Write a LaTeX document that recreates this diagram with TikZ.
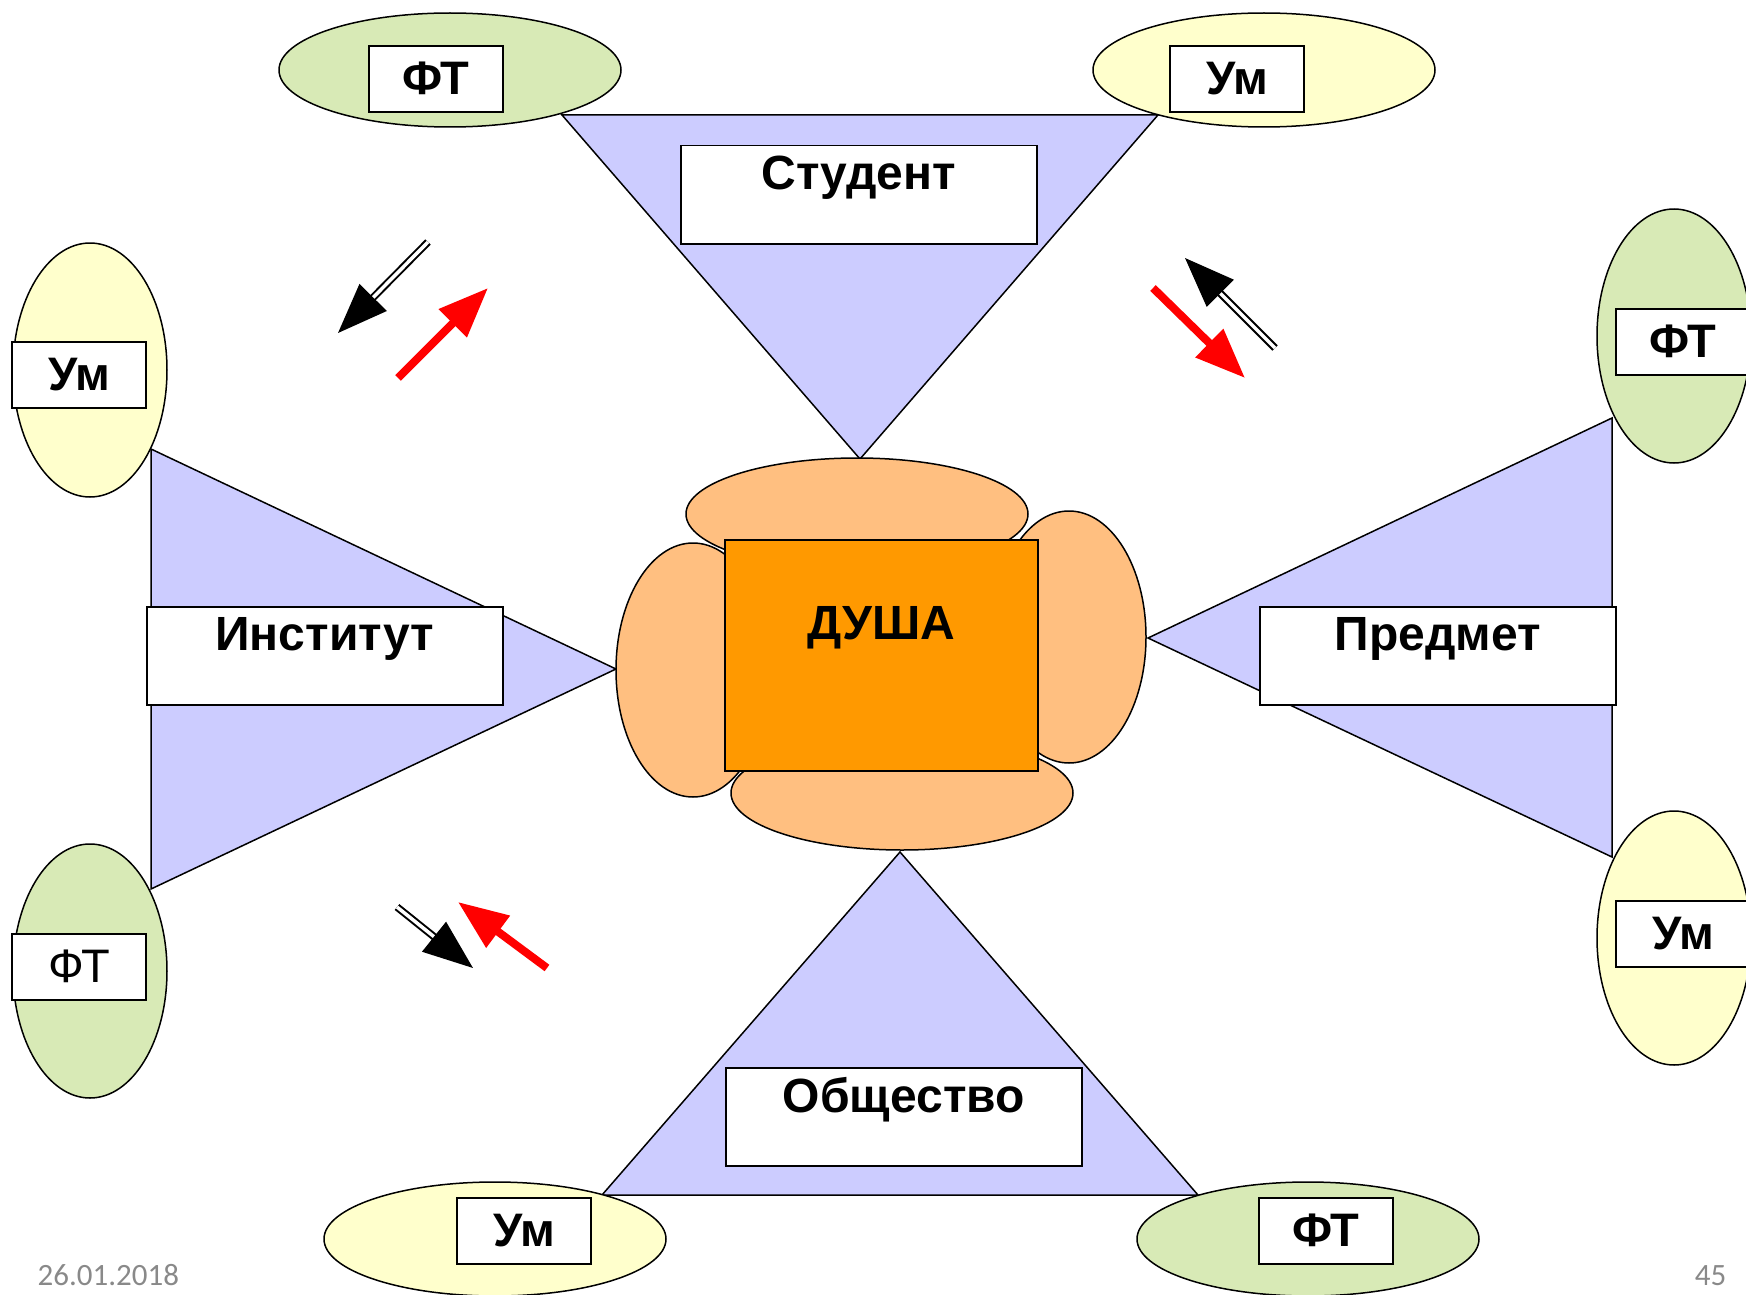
\documentclass[tikz,border=0pt]{standalone}
\usepackage{fontspec}
\setmainfont{Liberation Sans}
\newfontfamily\footfont{Carlito}
\usetikzlibrary{arrows.meta}
\definecolor{lilac}{RGB}{204, 204, 255}
\definecolor{leaf}{RGB}{216, 234, 182}
\definecolor{cream}{RGB}{255, 255, 204}
\definecolor{peach}{RGB}{255, 191, 128}
\definecolor{amber}{RGB}{255, 153, 0}
\definecolor{datecol}{RGB}{137, 137, 137}

\begin{document}
\begin{tikzpicture}[x=1pt, y=-1pt, line width=1.5pt,
  tri/.style={fill=lilac, draw=black},
  tag/.style={draw=black, fill=white, minimum width=134pt, minimum height=66pt,
    inner sep=0pt, font=\fontsize{47}{50}\selectfont\bfseries},
  plate/.style={draw=black, fill=white, minimum width=356pt, minimum height=98pt,
    inner sep=0pt, anchor=north west},
  word/.style={font=\fontsize{48}{52}\selectfont\bfseries, inner sep=0pt},
  push/.style={line width=2pt, double=white, double distance=3.5pt,
    -{Triangle[length=50pt, width=38pt]}},
  pull/.style={red, line width=8pt, -{Triangle[length=50pt, width=38pt]}}]
  \useasboundingbox (0, 0) rectangle (1746, 1295);

  % Triangles
  \draw[tri] (562, 115) -- (1158, 115) -- (860, 459) -- cycle;
  \draw[tri] (151, 449) -- (151, 889) -- (616, 669) -- cycle;
  \draw[tri] (1612, 418) -- (1612, 857) -- (1148, 638) -- cycle;
  \draw[tri] (900, 852) -- (602, 1195) -- (1198, 1195) -- cycle;

  % Outer ellipses
  \draw[fill=leaf] (450, 70) ellipse [x radius=171pt, y radius=57pt];
  \draw[fill=cream] (1264, 70) ellipse [x radius=171pt, y radius=57pt];
  \draw[fill=cream] (90, 370) ellipse [x radius=77pt, y radius=127pt];
  \draw[fill=leaf] (90, 971) ellipse [x radius=77pt, y radius=127pt];
  \draw[fill=leaf] (1674, 336) ellipse [x radius=77pt, y radius=127pt];
  \draw[fill=cream] (1674, 938) ellipse [x radius=77pt, y radius=127pt];
  \draw[fill=cream] (495, 1239) ellipse [x radius=171pt, y radius=57pt];
  \draw[fill=leaf] (1308, 1239) ellipse [x radius=171pt, y radius=57pt];

  % Tags
  \node[tag] (ft1) at (436, 79) {\raisebox{2pt}{ФТ}};
  \node[tag] (um1) at (1237, 79) {\raisebox{2pt}{Ум}};
  \node[tag] (um2) at (79, 375) {\raisebox{2pt}{Ум}};
  \node[tag, font=\fontsize{47}{50}\selectfont] (ft2) at (79, 967) {\raisebox{2pt}{ФТ}};
  \node[tag] (ft3) at (1683, 342) {\raisebox{2pt}{ФТ}};
  \node[tag] (um3) at (1683, 934) {\raisebox{2pt}{Ум}};
  \node[tag] (um4) at (524, 1231) {\raisebox{2pt}{Ум}};
  \node[tag] (ft4) at (1326, 1231) {\raisebox{2pt}{ФТ}};

  % Plates
  \node[plate] (stud) at (680, 145) {};
  \node[word] at ([yshift=-33pt]stud.north) {Студент};
  \node[plate] (inst) at (146, 606) {};
  \node[word] at ([yshift=-33pt]inst.north) {Институт};
  \node[plate] (subj) at (1259, 606) {};
  \node[word] at ([yshift=-33pt]subj.north) {Предмет};
  \node[plate] (soc) at (725, 1067) {};
  \node[word] at ([yshift=-33pt]soc.north) {Общество};

  % Soul
  \draw[fill=peach] (693, 670) ellipse [x radius=77pt, y radius=127pt];
  \draw[fill=peach] (1069, 637) ellipse [x radius=77pt, y radius=126pt];
  \draw[fill=peach] (857, 514) ellipse [x radius=171pt, y radius=56pt];
  \draw[fill=peach] (902, 793) ellipse [x radius=171pt, y radius=57pt];
  \node[draw=black, fill=amber, minimum width=313pt, minimum height=231pt,
    inner sep=0pt, anchor=north west] (soul) at (724, 539) {};
  \node[word] at ([yshift=-89pt]soul.north) {ДУША};

  % Arrows
  \coordinate (a1) at (428, 242); \coordinate (b1) at (338, 333);
  \coordinate (c1) at (398, 378); \coordinate (d1) at (488, 288);
  \coordinate (a2) at (1275, 348); \coordinate (b2) at (1185, 258);
  \coordinate (c2) at (1153, 288); \coordinate (d2) at (1245, 378);
  \coordinate (a3) at (397, 907); \coordinate (b3) at (473, 968);
  \coordinate (c3) at (547, 968); \coordinate (d3) at (458, 902);
  \draw[push] (a1) -- (b1);
  \draw[pull] (c1) -- (d1);
  \draw[push] (a2) -- (b2);
  \draw[pull] (c2) -- (d2);
  \draw[push] (a3) -- (b3);
  \draw[pull] (c3) -- (d3);

  % Footer
  \node[font=\footfont\fontsize{31}{36}\selectfont, text=datecol, anchor=base west,
    inner sep=0pt] (date) at (37, 1285) {26.01.2018};
  \node[font=\footfont\fontsize{31}{36}\selectfont, text=datecol, anchor=base east,
    inner sep=0pt] (page) at (1727, 1285) {45};
\end{tikzpicture}
\end{document}
